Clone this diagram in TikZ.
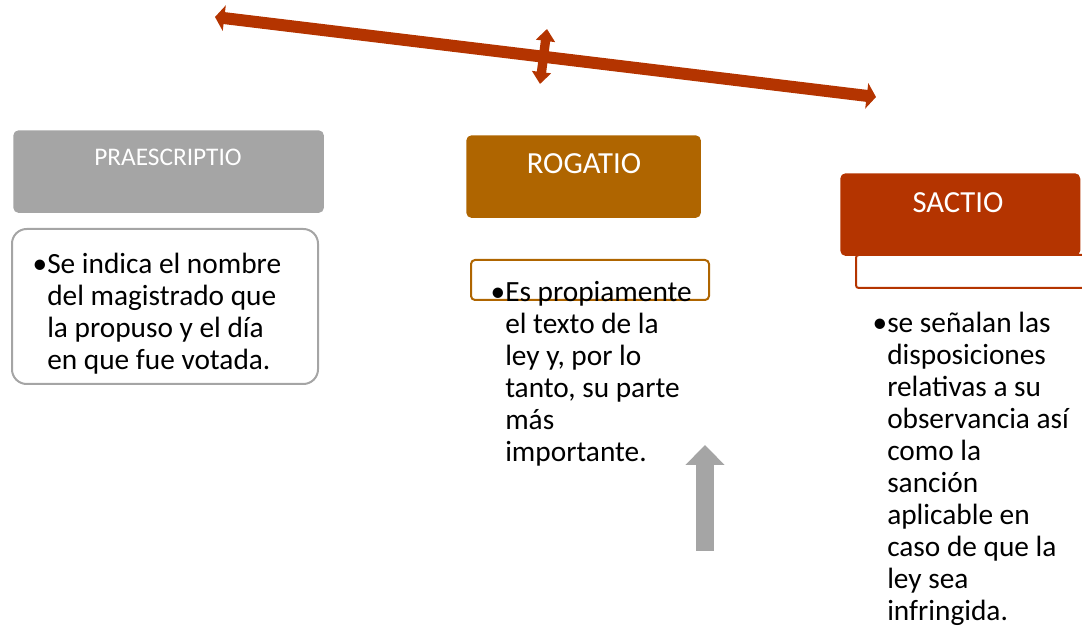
\documentclass[tikz,border=0pt]{standalone}
\usepackage{fontspec}
\setmainfont{Carlito}
\usetikzlibrary{arrows.meta}

\definecolor{grisbox}{RGB}{165,165,165}
\definecolor{rogcolor}{RGB}{175,101,0}
\definecolor{saccolor}{RGB}{180,52,0}

\begin{document}
\begin{tikzpicture}[x=0.75pt,y=-0.75pt,
  headbox/.style={rounded corners=4pt,anchor=north west,inner sep=0pt},
  headtext/.style={text=white,inner sep=0pt},
  bodytext/.style={align=left,anchor=north west,inner sep=0pt,font=\fontsize{22}{24}\selectfont},
  bigarrow/.style={saccolor,line width=9pt,{Triangle[length=7pt,width=19pt]}-{Triangle[length=7pt,width=19pt]}}]

\useasboundingbox (0,0) rectangle (1082,630);

% cabeceras
\node[headbox,fill=grisbox,minimum width=233pt,minimum height=62pt] (praesbox) at (13,130) {};
\node[headtext,font=\fontsize{19}{22}\selectfont] (praestitle) at (168,157) {PRAESCRIPTIO};

\node[headbox,fill=rogcolor,minimum width=176pt,minimum height=62pt] (rogbox) at (466,135) {};
\node[headtext,font=\fontsize{23}{26}\selectfont] (rogtitle) at (584,164) {ROGATIO};

\draw[saccolor,line width=1.5pt,rounded corners=2pt] (1095,255) -- (856,255) -- (856,288) -- (1095,288);
\node[headbox,fill=saccolor,minimum width=180pt,minimum height=62pt] (sacbox) at (840,173) {};
\node[headtext,font=\fontsize{23}{26}\selectfont] (sactitle) at (958,203) {SACTIO};

% cajas de texto
\draw[grisbox,line width=1.5pt,rounded corners=11pt] (12,229) rectangle (318,384);
\draw[rogcolor,line width=1.5pt,rounded corners=3pt] (471,260) rectangle (709,300);

\node[bodytext] (praestext) at (47,253) {\llap{\textbullet}Se indica el nombre\\
del magistrado que\\la propuso y el día\\en que fue votada.};

\node[bodytext] (rogtext) at (505,281) {\llap{\textbullet}Es propiamente\\
el texto de la\\ley y, por lo\\tanto, su parte\\más\\importante.};

\node[bodytext] (sactext) at (887,312) {\llap{\textbullet}se señalan las\\
disposiciones\\relativas a su\\observancia así\\como la\\sanción\\aplicable en\\caso de que la\\ley sea\\infringida.};

% flechas
\coordinate (izq) at (215,17);
\coordinate (der) at (876,97);
\coordinate (arriba) at (547,29);
\coordinate (abajo) at (540,84);
\draw[bigarrow] (izq) -- (der);
\draw[saccolor,line width=7pt,{Triangle[length=9pt,width=14pt]}-{Triangle[length=9pt,width=14pt]}] (arriba) -- (abajo);

\coordinate (flbase) at (705,551);
\coordinate (flpunta) at (705,445);
\draw[grisbox,line width=14pt,-{Triangle[length=15pt,width=28.5pt]}] (flbase) -- (flpunta);

\end{tikzpicture}
\end{document}
